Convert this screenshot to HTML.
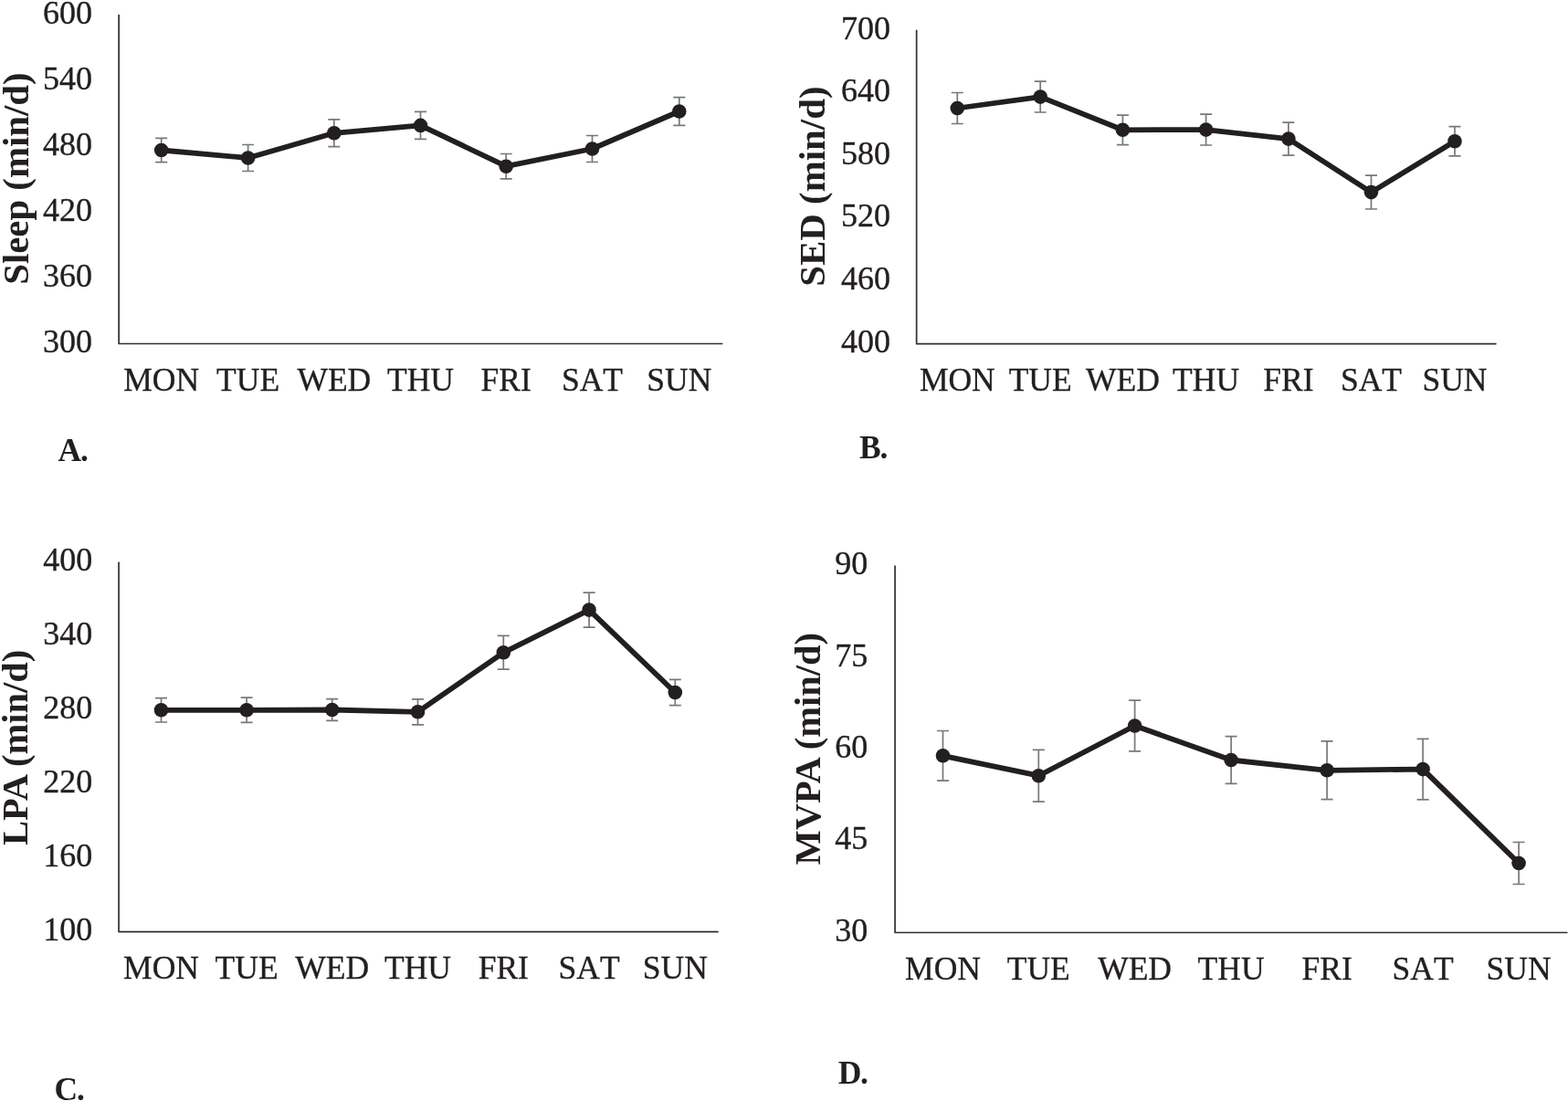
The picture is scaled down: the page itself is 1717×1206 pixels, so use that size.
<!DOCTYPE html>
<html><head><meta charset="utf-8"><title>Figure</title>
<style>
html,body{margin:0;padding:0;background:#fff;}
svg{display:block;}
text{font-family:"Liberation Serif",serif;fill:#231f20;font-kerning:none;}
.xl{font-size:35.5px;text-anchor:middle;stroke:#231f20;stroke-width:0.35px;}
.yl{font-size:36px;text-anchor:end;stroke:#231f20;stroke-width:0.35px;}
.tt{font-size:40px;font-weight:bold;text-anchor:middle;font-kerning:normal;}
.pl{font-size:35.5px;font-weight:bold;letter-spacing:-1.2px;}
.ax{stroke:#2e2f33;stroke-width:1.7;fill:none;stroke-linejoin:round;stroke-linecap:round;}
.er{stroke:#76787b;stroke-width:1.7;fill:none;}
.dl{stroke:#231f20;stroke-width:5.8;fill:none;stroke-linejoin:round;}
.mk{fill:#231f20;}
</style></head><body>
<svg width="1717" height="1206" viewBox="0 0 1717 1206">
<rect width="1717" height="1206" fill="#fff"/>
<g>
<path class="ax" d="M130.15 16.6V376.5H790.7"/>
<text class="yl" x="101" y="25.8">600</text>
<text class="yl" x="101" y="97.78">540</text>
<text class="yl" x="101" y="169.76">480</text>
<text class="yl" x="101" y="241.74">420</text>
<text class="yl" x="101" y="313.72">360</text>
<text class="yl" x="101" y="385.7">300</text>
<text class="xl" x="176.7" y="427.7">MON</text>
<text class="xl" x="271.6" y="427.7">TUE</text>
<text class="xl" x="365.8" y="427.7">WED</text>
<text class="xl" x="460.5" y="427.7">THU</text>
<text class="xl" x="554.2" y="427.7">FRI</text>
<text class="xl" x="648.5" y="427.7">SAT</text>
<text class="xl" x="743.8" y="427.7">SUN</text>
<text class="tt" style="font-size:40.8px" transform="translate(30.56 195.6) rotate(-90)">Sleep (min/d)</text>
<text class="pl" x="63.6" y="505.4">A.</text>
<path class="er" d="M176.7 151.4V177.6M170.2 151.4H183.2M170.2 177.6H183.2M271.6 158.5V187.5M265.1 158.5H278.1M265.1 187.5H278.1M365.8 130.95V160.65M359.3 130.95H372.3M359.3 160.65H372.3M460.5 122.4V152.4M454 122.4H467M454 152.4H467M554.2 168.5V195.9M547.7 168.5H560.7M547.7 195.9H560.7M648.5 148.5V177.5M642 148.5H655M642 177.5H655M743.8 106.7V137.3M737.3 106.7H750.3M737.3 137.3H750.3"/>
<polyline class="dl" points="176.7,164.5 271.6,173 365.8,145.8 460.5,137.4 554.2,182.2 648.5,163 743.8,122"/>
<circle class="mk" cx="176.7" cy="164.5" r="7.8"/>
<circle class="mk" cx="271.6" cy="173" r="7.8"/>
<circle class="mk" cx="365.8" cy="145.8" r="7.8"/>
<circle class="mk" cx="460.5" cy="137.4" r="7.8"/>
<circle class="mk" cx="554.2" cy="182.2" r="7.8"/>
<circle class="mk" cx="648.5" cy="163" r="7.8"/>
<circle class="mk" cx="743.8" cy="122" r="7.8"/>
</g>
<g>
<path class="ax" d="M1003.65 33.3V376.6H1637.9"/>
<text class="yl" x="975" y="42.5">700</text>
<text class="yl" x="975" y="111.16">640</text>
<text class="yl" x="975" y="179.82">580</text>
<text class="yl" x="975" y="248.48">520</text>
<text class="yl" x="975" y="317.14">460</text>
<text class="yl" x="975" y="385.8">400</text>
<text class="xl" x="1048.3" y="427.7">MON</text>
<text class="xl" x="1139.2" y="427.7">TUE</text>
<text class="xl" x="1229.4" y="427.7">WED</text>
<text class="xl" x="1320.6" y="427.7">THU</text>
<text class="xl" x="1410.9" y="427.7">FRI</text>
<text class="xl" x="1501.5" y="427.7">SAT</text>
<text class="xl" x="1593" y="427.7">SUN</text>
<text class="tt" style="font-size:40.9px" transform="translate(903.4 204.05) rotate(-90)">SED (min/d)</text>
<text class="pl" x="941.1" y="501.9">B.</text>
<path class="er" d="M1048.3 101.5V135.5M1041.8 101.5H1054.8M1041.8 135.5H1054.8M1139.2 89.2V123M1132.7 89.2H1145.7M1132.7 123H1145.7M1229.4 126.05V158.55M1222.9 126.05H1235.9M1222.9 158.55H1235.9M1320.6 125.2V159M1314.1 125.2H1327.1M1314.1 159H1327.1M1410.9 134.1V170.1M1404.4 134.1H1417.4M1404.4 170.1H1417.4M1501.5 192.2V229M1495 192.2H1508M1495 229H1508M1593 138.6V170.8M1586.5 138.6H1599.5M1586.5 170.8H1599.5"/>
<polyline class="dl" points="1048.3,118.5 1139.2,106.1 1229.4,142.3 1320.6,142.1 1410.9,152.1 1501.5,210.6 1593,154.7"/>
<circle class="mk" cx="1048.3" cy="118.5" r="7.8"/>
<circle class="mk" cx="1139.2" cy="106.1" r="7.8"/>
<circle class="mk" cx="1229.4" cy="142.3" r="7.8"/>
<circle class="mk" cx="1320.6" cy="142.1" r="7.8"/>
<circle class="mk" cx="1410.9" cy="152.1" r="7.8"/>
<circle class="mk" cx="1501.5" cy="210.6" r="7.8"/>
<circle class="mk" cx="1593" cy="154.7" r="7.8"/>
</g>
<g>
<path class="ax" d="M130.05 616.2V1020.7H785.9"/>
<text class="yl" x="101.2" y="625.4">400</text>
<text class="yl" x="101.2" y="706.3">340</text>
<text class="yl" x="101.2" y="787.2">280</text>
<text class="yl" x="101.2" y="868.1">220</text>
<text class="yl" x="101.2" y="949">160</text>
<text class="yl" x="101.2" y="1029.9">100</text>
<text class="xl" x="176.5" y="1072">MON</text>
<text class="xl" x="270.1" y="1072">TUE</text>
<text class="xl" x="363.7" y="1072">WED</text>
<text class="xl" x="457.5" y="1072">THU</text>
<text class="xl" x="551.3" y="1072">FRI</text>
<text class="xl" x="645.1" y="1072">SAT</text>
<text class="xl" x="739.3" y="1072">SUN</text>
<text class="tt" style="font-size:40.5px" transform="translate(30.35 818.85) rotate(-90)">LPA (min/d)</text>
<text class="pl" x="59.6" y="1204.6">C.</text>
<path class="er" d="M176.5 764.6V791M170 764.6H183M170 791H183M270.1 764.2V791.4M263.6 764.2H276.6M263.6 791.4H276.6M363.7 765.6V789.4M357.2 765.6H370.2M357.2 789.4H370.2M457.5 765.8V793.8M451 765.8H464M451 793.8H464M551.3 696.4V733.2M544.8 696.4H557.8M544.8 733.2H557.8M645.1 649.1V687.1M638.6 649.1H651.6M638.6 687.1H651.6M739.3 744.4V772.6M732.8 744.4H745.8M732.8 772.6H745.8"/>
<polyline class="dl" points="176.5,777.8 270.1,777.8 363.7,777.5 457.5,779.8 551.3,714.8 645.1,668.1 739.3,758.5"/>
<circle class="mk" cx="176.5" cy="777.8" r="7.8"/>
<circle class="mk" cx="270.1" cy="777.8" r="7.8"/>
<circle class="mk" cx="363.7" cy="777.5" r="7.8"/>
<circle class="mk" cx="457.5" cy="779.8" r="7.8"/>
<circle class="mk" cx="551.3" cy="714.8" r="7.8"/>
<circle class="mk" cx="645.1" cy="668.1" r="7.8"/>
<circle class="mk" cx="739.3" cy="758.5" r="7.8"/>
</g>
<g>
<path class="ax" d="M980.05 620.1V1021.5H1715.8"/>
<text class="yl" x="950.3" y="629.3">90</text>
<text class="yl" x="950.3" y="729.65">75</text>
<text class="yl" x="950.3" y="830">60</text>
<text class="yl" x="950.3" y="930.35">45</text>
<text class="yl" x="950.3" y="1030.7">30</text>
<text class="xl" x="1032.5" y="1073.2">MON</text>
<text class="xl" x="1137.3" y="1073.2">TUE</text>
<text class="xl" x="1242.6" y="1073.2">WED</text>
<text class="xl" x="1348.1" y="1073.2">THU</text>
<text class="xl" x="1453.1" y="1073.2">FRI</text>
<text class="xl" x="1558.1" y="1073.2">SAT</text>
<text class="xl" x="1663.1" y="1073.2">SUN</text>
<text class="tt" style="font-size:40.5px" transform="translate(897.6 820.3) rotate(-90)">MVPA (min/d)</text>
<text class="pl" x="917.7" y="1187.1">D.</text>
<path class="er" d="M1032.5 800.5V855.1M1026 800.5H1039M1026 855.1H1039M1137.3 821.3V878.1M1130.8 821.3H1143.8M1130.8 878.1H1143.8M1242.6 767.2V822.8M1236.1 767.2H1249.1M1236.1 822.8H1249.1M1348.1 806.6V858.4M1341.6 806.6H1354.6M1341.6 858.4H1354.6M1453.1 811.9V875.7M1446.6 811.9H1459.6M1446.6 875.7H1459.6M1558.1 809.35V875.85M1551.6 809.35H1564.6M1551.6 875.85H1564.6M1663.1 922.5V968.5M1656.6 922.5H1669.6M1656.6 968.5H1669.6"/>
<polyline class="dl" points="1032.5,827.8 1137.3,849.7 1242.6,795 1348.1,832.5 1453.1,843.8 1558.1,842.6 1663.1,945.5"/>
<circle class="mk" cx="1032.5" cy="827.8" r="7.8"/>
<circle class="mk" cx="1137.3" cy="849.7" r="7.8"/>
<circle class="mk" cx="1242.6" cy="795" r="7.8"/>
<circle class="mk" cx="1348.1" cy="832.5" r="7.8"/>
<circle class="mk" cx="1453.1" cy="843.8" r="7.8"/>
<circle class="mk" cx="1558.1" cy="842.6" r="7.8"/>
<circle class="mk" cx="1663.1" cy="945.5" r="7.8"/>
</g>
</svg>
</body></html>
